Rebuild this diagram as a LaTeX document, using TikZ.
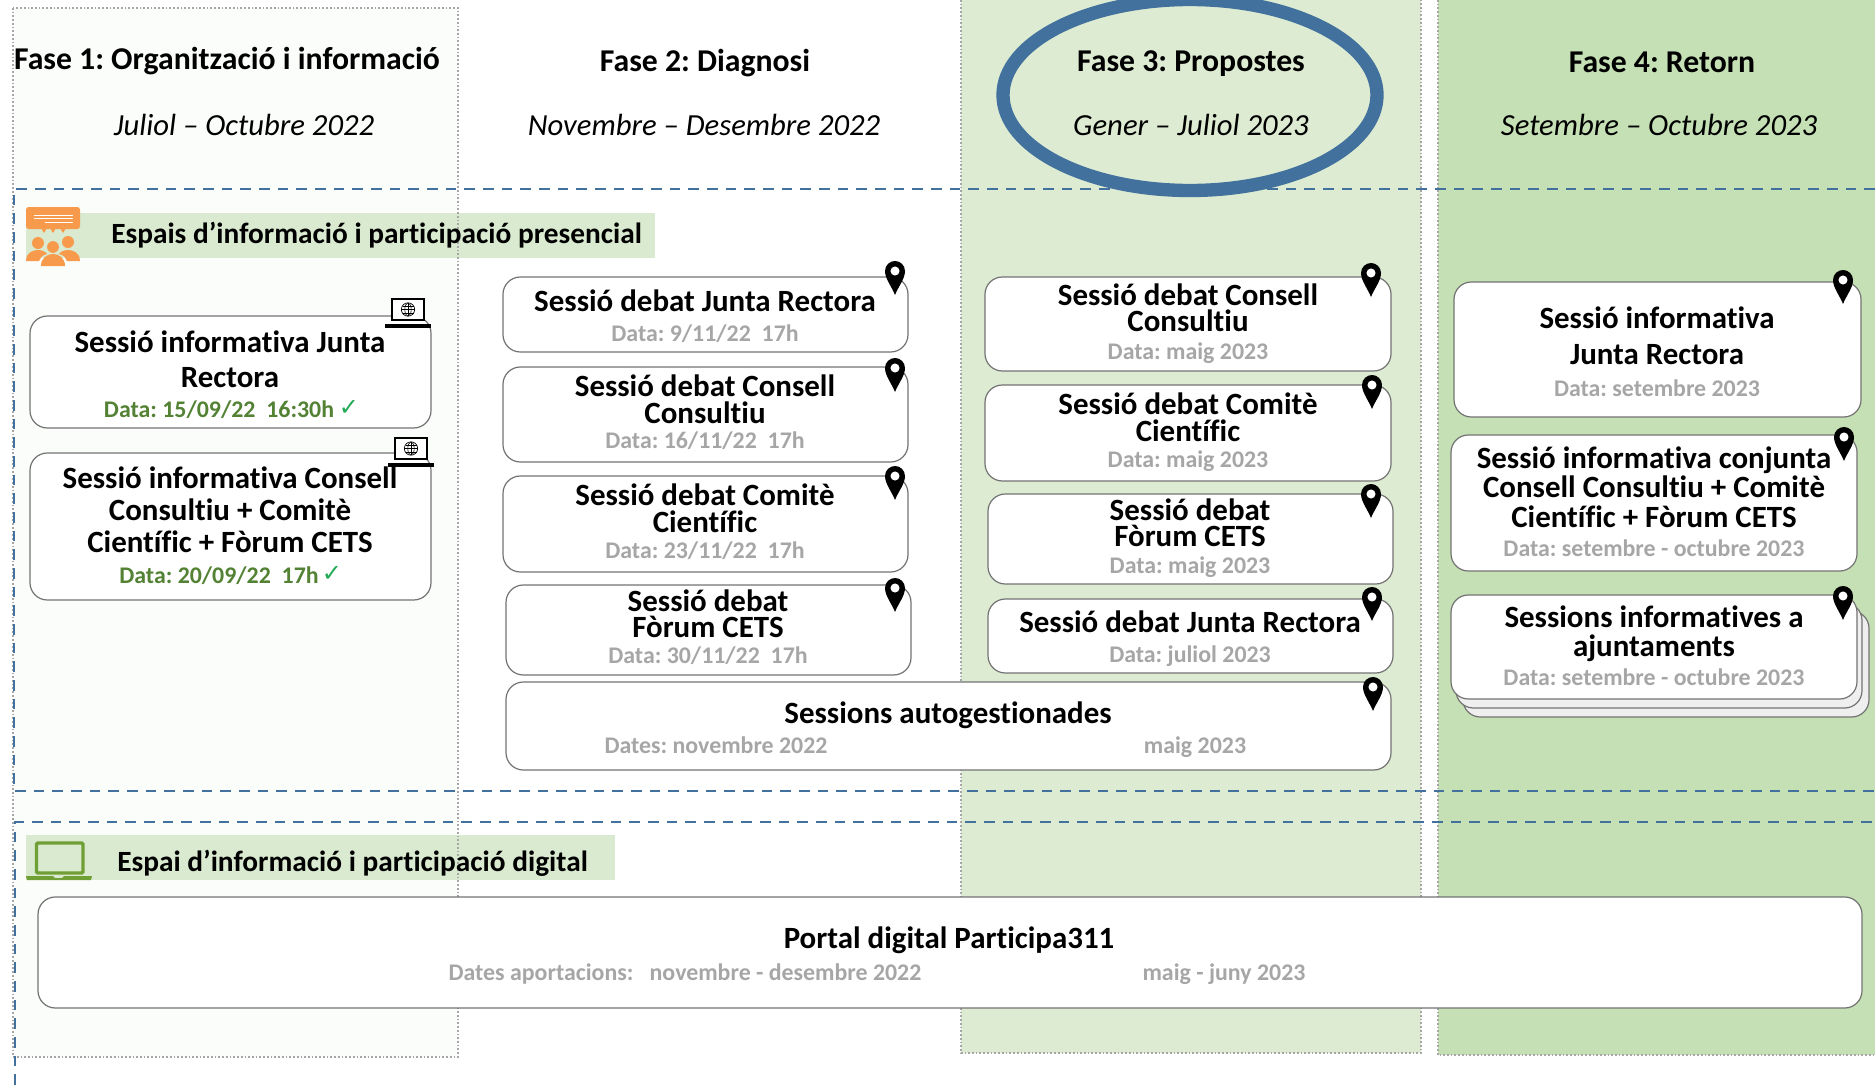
\documentclass[tikz,border=0pt]{standalone}
\usepackage{fontspec}
\setmainfont[Ligatures=NoCommon]{Carlito}
\newfontfamily\dejafont{DejaVu Sans}
\usetikzlibrary{fit,shapes.geometric}
\definecolor{pone}{HTML}{FBFDFA}
\definecolor{pthree}{HTML}{DDEBD2}
\definecolor{pfour}{HTML}{C5E0B4}
\definecolor{bandc}{HTML}{D9EAD0}
\definecolor{blueln}{HTML}{41719C}
\definecolor{datec}{HTML}{A6A6A6}
\definecolor{donec}{HTML}{548235}
\definecolor{tickc}{HTML}{22AA55}
\definecolor{orangec}{HTML}{F79A4B}
\definecolor{lapc}{HTML}{70A035}
\definecolor{stackc}{HTML}{EFEFEF}
\newcommand\tf[1]{\fontsize{23.2}{#1}\selectfont\bfseries\frenchspacing}
\tikzset{
  x=0.75pt,y=-0.75pt,
  panelline/.style={draw=black!35,line width=1.7pt,dash pattern=on 1.3pt off 1.5pt},
  frameline/.style={draw=blueln,line width=2.1pt,dash pattern=on 8pt off 6pt},
  rbx/.style={draw=black!55,line width=0.9pt,fill=white,rounded corners=13pt,inner sep=0pt},
  stk/.style={rbx,fill=stackc},
  phase/.style={font=\fontsize{23.8}{28}\selectfont\bfseries\frenchspacing,inner sep=0pt},
  when/.style={font=\fontsize{23}{28}\selectfont\itshape\frenchspacing,inner sep=0pt},
  bandtxt/.style={font=\fontsize{22}{26}\selectfont\bfseries\frenchspacing,inner sep=0pt,anchor=west},
  ttl/.style={align=center,inner sep=0pt},
  dat/.style={font=\fontsize{17.9}{22}\selectfont\bfseries\frenchspacing,text=datec,inner sep=0pt},
  dne/.style={dat,text=donec},
  tck/.style={font=\dejafont\fontsize{18}{20}\selectfont,text=tickc,inner sep=0pt},
}
\newcommand\pinmark[2]{\begin{scope}[shift={(#1,#2)}]
  \fill[black] (0,34) .. controls (-3,26) and (-10,18) .. (-10,10) .. controls (-10,4) and (-5,0) .. (0,0) .. controls (5,0) and (10,4) .. (10,10) .. controls (10,18) and (3,26) .. (0,34) -- cycle;
  \fill[white] (0,10) circle[radius=3.4pt];
\end{scope}}
\newcommand\lapmark[2]{\begin{scope}[shift={(#1,#2)}]
  \draw[black,line width=1.6pt,fill=white] (0,0) rectangle (32,21);
  \fill[black] (-7,25) rectangle (39,29);
  \draw[black,line width=0.5pt] (16,10.5) circle[radius=5pt];
  \draw[black,line width=0.4pt] (16,10.5) ellipse[x radius=3.2,y radius=6.6];
  \draw[black,line width=0.4pt] (9.4,10.5) -- (22.6,10.5) (10.5,7) -- (21.5,7) (10.5,14) -- (21.5,14) (16,4) -- (16,17);
\end{scope}}
\begin{document}
\begin{tikzpicture}
\useasboundingbox (0,0) rectangle (1875,1085);
% panels
\fill[pone] (13,8) rectangle (458,1057);
\fill[pthree] (961,0) rectangle (1421,1053);
\fill[pfour] (1438,0) rectangle (1875,1055);
% bands
\fill[bandc] (26,213) rectangle (655,258);
\fill[bandc] (26,835) rectangle (615,880);
% panel borders
\draw[panelline] (13,8) rectangle (458,1057);
\draw[panelline] (961,0) -- (961,1053) -- (1421,1053) -- (1421,0);
\draw[panelline] (1438,0) -- (1438,1055) -- (1875,1055);
% dashed frames
\draw[frameline] (1875,189) -- (14,189) -- (14,791) -- (1875,791);
\draw[frameline] (15,1085) -- (15,822) -- (1875,822);
% highlight ellipse
\draw[blueln,line width=10pt] (1190,95) ellipse[x radius=187,y radius=95.5];
% headings
\node[phase] (f1) at (227,61) {Fase 1: Organització i informació};
\node[phase] (f2) at (705,63) {Fase 2: Diagnosi};
\node[phase] (f3) at (1191,64) {Fase 3: Propostes};
\node[phase] (f4) at (1662,62) {Fase 4: Retorn};
\node[when] (d1) at (244,124.5) {Juliol – Octubre 2022};
\node[when] (d2) at (704,124.5) {Novembre – Desembre 2022};
\node[when] (d3) at (1191,124.5) {Gener – Juliol 2023};
\node[when] (d4) at (1659,124.5) {Setembre – Octubre 2023};
% band texts
\node[bandtxt] (bt1) at (111,235.5) {Espais d’informació i participació presencial};
\node[bandtxt] (bt2) at (117,863) {Espai d’informació i participació digital};
% orange icon
\fill[orangec,rounded corners=2pt] (26,207) rectangle (80,229);
\fill[orangec] (41,228) -- (44,233) -- (47,228) -- cycle (50,228) -- (53,233) -- (56,228) -- cycle (60,228) -- (63,233) -- (66,228) -- cycle;
\draw[white,line width=0.7pt] (34,215) -- (73,215) (34,218) -- (73,218) (45,222) -- (73,222);
\fill[orangec] (38,243) circle[radius=4.5pt] (68,242) circle[radius=4.5pt] (53,247) circle[radius=4.4pt];
\fill[orangec] (26,261) .. controls (26,252) and (34,250) .. (38,250) .. controls (42,250) and (46,252) .. (47,254) .. controls (42,255) and (40,258) .. (39,261) -- cycle;
\fill[orangec] (80,261) .. controls (80,252) and (72,250) .. (68,250) .. controls (64,250) and (60,252) .. (59,254) .. controls (64,255) and (66,258) .. (67,261) -- cycle;
\fill[orangec] (41,266) .. controls (41,258) and (47,254) .. (53,254) .. controls (59,254) and (65,258) .. (65,266) -- cycle;
% green laptop
\draw[lapc,line width=2.6pt,rounded corners=1pt] (36.5,843) rectangle (83,873);
\fill[lapc] (26,876) -- (53,876) -- (55,878) -- (62,878) -- (64,876) -- (92,876) -- (91,880) -- (27,880) -- cycle;
% column 1
\node[rbx,fit={(30,316)(431,428)}] (a1) {};
\node[ttl,font=\tf{26.2}] (a1t) at (230,359) {Sessió informativa Junta\\Rectora};
\node[dne] (a1d) at (219,410) {Data: 15/09/22\ \ 16:30h};
\node[tck] (a1c) at (349,408) {✓};
\node[rbx,fit={(30,453)(431,600)}] (a2) {};
\node[ttl,font=\tf{24}] (a2t) at (230,510) {Sessió informativa Consell\\Consultiu + Comitè\\Científic + Fòrum CETS};
\node[dne] (a2d) at (219,576) {Data: 20/09/22\ \ 17h};
\node[tck] (a2c) at (332,574) {✓};
\lapmark{392}{299}
\lapmark{395}{438}
% column 2
\node[rbx,fit={(503,277)(908,352)}] (b1) {};
\node[ttl,font=\tf{20}] (b1t) at (705,301) {Sessió debat Junta Rectora};
\node[dat] (b1d) at (705,334) {Data: 9/11/22\ \ 17h};
\node[rbx,fit={(503,367)(908,462)}] (b2) {};
\node[ttl,font=\tf{20}] (b2t) at (705,399) {Sessió debat Consell\\Consultiu};
\node[dat] (b2d) at (705,441) {Data: 16/11/22\ \ 17h};
\node[rbx,fit={(503,476)(908,572)}] (b3) {};
\node[ttl,font=\tf{20}] (b3t) at (705,508) {Sessió debat Comitè\\Científic};
\node[dat] (b3d) at (705,551) {Data: 23/11/22\ \ 17h};
\node[rbx,fit={(506,585)(911,675)}] (b4) {};
\node[ttl,font=\tf{19.5}] (b4t) at (708,614) {Sessió debat\\Fòrum CETS};
\node[dat] (b4d) at (708,656) {Data: 30/11/22\ \ 17h};
% autogestionades
\node[rbx,fit={(506,682)(1391,770)}] (c0) {};
\node[ttl,font=\tf{20}] (c0t) at (948,715) {Sessions autogestionades};
\node[dat] (c0a) at (716,745) {Dates: novembre 2022};
\node[dat] (c0b) at (1195,747) {maig 2023};
% column 3
\node[rbx,fit={(985,277)(1391,371)}] (c1) {};
\node[ttl,font=\tf{19.5}] (c1t) at (1188,308) {Sessió debat Consell\\Consultiu};
\node[dat] (c1d) at (1188,353) {Data: maig 2023};
\node[rbx,fit={(985,385)(1391,481)}] (c2) {};
\node[ttl,font=\tf{20}] (c2t) at (1188,417) {Sessió debat Comitè\\Científic};
\node[dat] (c2d) at (1188,461) {Data: maig 2023};
\node[rbx,fit={(988,494)(1393,584)}] (c3) {};
\node[ttl,font=\tf{19.5}] (c3t) at (1190,523) {Sessió debat\\Fòrum CETS};
\node[dat] (c3d) at (1190,567) {Data: maig 2023};
\node[rbx,fit={(988,599)(1393,673)}] (c4) {};
\node[ttl,font=\tf{20}] (c4t) at (1190,622) {Sessió debat Junta Rectora};
\node[dat] (c4d) at (1190,656) {Data: juliol 2023};
% column 4
\node[rbx,fit={(1454,282)(1861,417)}] (e1) {};
\node[ttl,font=\tf{27}] (e1t) at (1657,336) {Sessió informativa\\Junta Rectora};
\node[dat] (e1d) at (1657,388) {Data: setembre 2023};
\node[rbx,fit={(1451,435)(1857,571)}] (e2) {};
\node[ttl,font=\tf{22}] (e2t) at (1654,487) {Sessió informativa conjunta\\Consell Consultiu + Comitè\\Científic + Fòrum CETS};
\node[dat] (e2d) at (1654,548.5) {Data: setembre - octubre 2023};
\node[stk,fit={(1463,611)(1869,717)}] (e3c) {};
\node[stk,fit={(1456,603)(1862,708)}] (e3b) {};
\node[rbx,fit={(1451,595)(1857,699)}] (e3) {};
\node[ttl,font=\tf{22}] (e3t) at (1654,634) {Sessions informatives a\\ajuntaments};
\node[dat] (e3d) at (1654,677) {Data: setembre - octubre 2023};
% portal
\node[rbx,fit={(38,897)(1862,1008)}] (p) {};
\node[ttl,font=\tf{20}] (pt) at (949,940) {Portal digital Participa311};
\node[dat] (pa) at (685,974) {Dates aportacions:\ \ \ novembre - desembre 2022};
\node[dat] (pb) at (1224,974) {maig - juny 2023};
% pins
\pinmark{895}{261}\pinmark{895}{358}\pinmark{895}{466}\pinmark{895}{578}
\pinmark{1371}{263}\pinmark{1372}{375}\pinmark{1371}{484}\pinmark{1372}{587}\pinmark{1373}{677}
\pinmark{1843}{270}\pinmark{1844}{427}\pinmark{1843}{586}
\end{tikzpicture}
\end{document}
